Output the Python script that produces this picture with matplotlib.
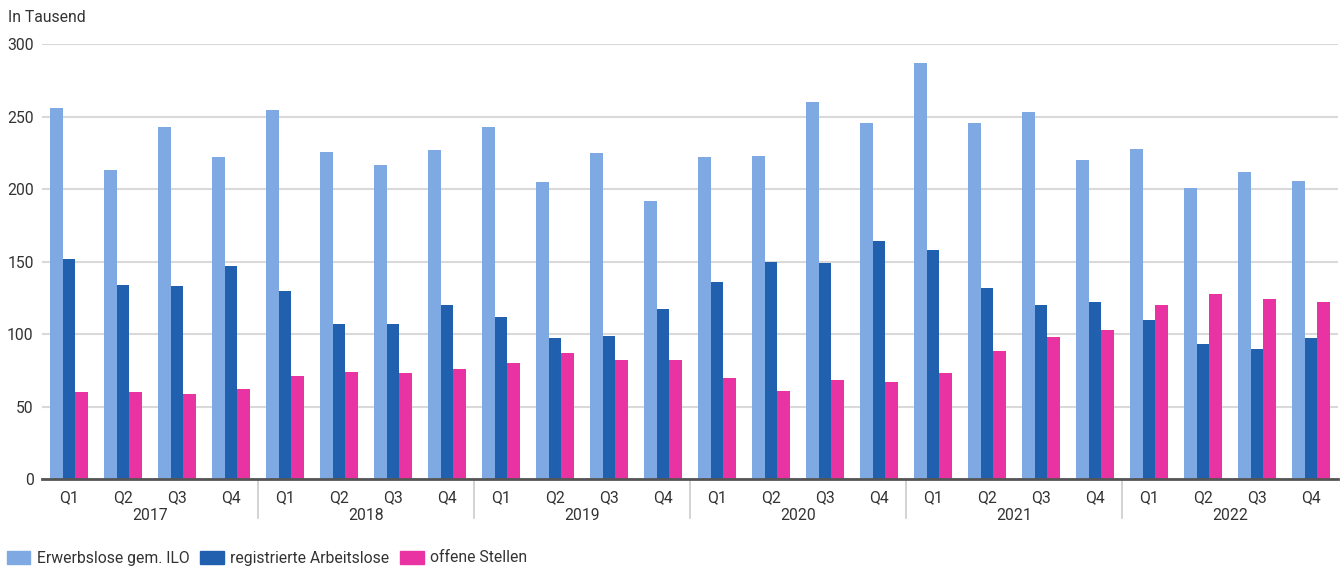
import matplotlib
matplotlib.use("Agg")
import matplotlib.pyplot as plt
from matplotlib.patches import Patch
from matplotlib.transforms import blended_transform_factory
import numpy as np

plt.rcParams["font.family"] = ["Roboto", "DejaVu Sans"]

years = ["2017", "2018", "2019", "2020", "2021", "2022"]
quarters = ["Q1", "Q2", "Q3", "Q4"]
ilo = [256, 213, 243, 222, 255, 226, 217, 227, 243, 205, 225, 192,
       222, 223, 260, 246, 287, 246, 253, 220, 228, 201, 212, 206]
registriert = [152, 134, 133, 147, 130, 107, 107, 120, 112, 97, 99, 117,
               136, 150, 149, 164, 158, 132, 120, 122, 110, 93, 90, 97]
offen = [60, 60, 59, 62, 71, 74, 73, 76, 80, 87, 82, 82,
         70, 61, 68, 67, 73, 88, 98, 103, 120, 128, 124, 122]
series = ["Erwerbslose gem. ILO", "registrierte Arbeitslose", "offene Stellen"]
colors = ["#7FA9E3", "#2160AF", "#EA33A3"]
TXT = "#333333"
FS = 11.3

fig = plt.figure(figsize=(13.44, 5.68), dpi=100)
ax = fig.add_axes([42/1344, 1 - 479/568, 1296/1344, (479 - 44.3)/568])

x = np.arange(len(ilo))
w = 0.24
for k, vals in enumerate([ilo, registriert, offen]):
    ax.bar(x + (k - 1) * w, vals, width=w, color=colors[k], zorder=2)

ax.set_xlim(-0.5, len(ilo) - 0.5)
ax.set_ylim(0, 300)
ax.set_yticks(range(0, 301, 50))
ax.yaxis.grid(True, color="#d9d9d9", lw=1.5, zorder=0)
ax.set_axisbelow(True)
for s in ["top", "right", "left"]:
    ax.spines[s].set_visible(False)
ax.spines["bottom"].set_color("#555555")
ax.spines["bottom"].set_linewidth(2)
ax.spines["bottom"].set_zorder(3)

ax.set_xticks(x)
ax.set_xticklabels(quarters * len(years))
ax.tick_params(axis="x", length=0, pad=8, labelsize=FS, labelcolor=TXT)
ax.tick_params(axis="y", length=0, pad=6, labelsize=FS, labelcolor=TXT)

tr = blended_transform_factory(ax.transData, ax.transAxes)
for i, yr in enumerate(years):
    ax.text(i * 4 + 1.5, -0.084, yr, transform=tr, ha="center", va="center",
            fontsize=FS, color=TXT)
    if i > 0:
        ax.plot([i * 4 - 0.5] * 2, [0, -0.09], transform=tr, color="#cccccc",
                lw=1.2, clip_on=False)

fig.text(8/1344, 1 - 17/568, "In Tausend", ha="left", va="center",
         fontsize=FS, color=TXT)

handles = [Patch(color=c, label=l) for c, l in zip(colors, series)]
fig.legend(handles=handles, loc="center left", bbox_to_anchor=(0.005, 1 - 558/568),
           ncol=3, frameon=False, fontsize=FS, handlelength=1.5, handleheight=0.9,
           handletextpad=0.4, columnspacing=0.7, labelcolor=TXT, borderaxespad=0,
           borderpad=0)

fig.savefig("out.png", dpi=100)
